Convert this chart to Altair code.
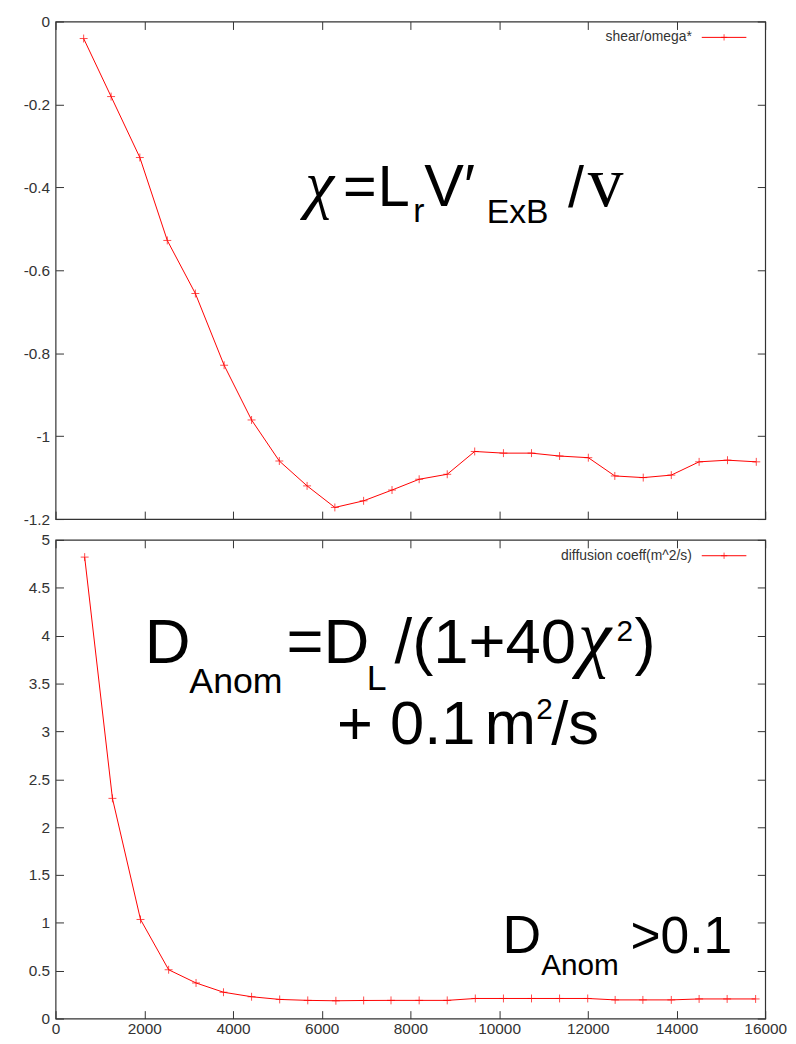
import altair as alt
import pandas as pd

# ---------------- data ----------------
x_top = [633, 1252, 1900, 2519, 3152, 3800, 4419, 5045, 5671, 6297, 6945, 7586, 8198,
         8831, 9450, 10098, 10731, 11364, 12012, 12609, 13250, 13883, 14510, 15150, 15799]
shear_omega = [-0.041, -0.181, -0.328, -0.528, -0.656, -0.829, -0.961, -1.060, -1.120,
               -1.172, -1.156, -1.130, -1.104, -1.092, -1.037, -1.041, -1.041, -1.048,
               -1.052, -1.096, -1.100, -1.094, -1.062, -1.058, -1.062]

x_bot = [656, 1282, 1915, 2549, 3167, 3786, 4419, 5053, 5686, 6320, 6946, 7563, 8198,
         8831, 9464, 10098, 10731, 11364, 11998, 12617, 13242, 13883, 14510, 15142, 15784]
diffusion = [4.82, 2.30, 1.035, 0.51, 0.372, 0.275, 0.228, 0.20, 0.19, 0.186, 0.189, 0.19,
             0.19, 0.19, 0.21, 0.21, 0.21, 0.21, 0.21, 0.195, 0.195, 0.195, 0.205, 0.205, 0.205]

x_ticks = [0, 2000, 4000, 6000, 8000, 10000, 12000, 14000, 16000]
top_y_ticks = [0, -0.2, -0.4, -0.6, -0.8, -1, -1.2]
bot_y_ticks = [0, 0.5, 1, 1.5, 2, 2.5, 3, 3.5, 4, 4.5, 5]

legend_top = "shear/omega*"
legend_bot = "diffusion coeff(m^2/s)"

FONT = "Liberation Sans"
SERIF = "Liberation Serif"
RED = "#ff0000"
AX = "#333333"
CROSS = "M-1,0L1,0M0,-1L0,1"

W = 716
H_TOP = 502
H_BOT = 483

one_row = pd.DataFrame({"k": [0]})


def make_panel(df, ycol, ydom, yticks, height, xlabels, legend, texts):
    xs = alt.Scale(domain=[0, 16000], nice=False, zero=False)
    ys = alt.Scale(domain=ydom, nice=False, zero=False)
    lab = "'' + datum.value"
    ax_bottom = alt.Axis(orient="bottom", values=x_ticks, offset=-8, tickSize=8, domain=False,
                         grid=False, labels=xlabels, labelExpr=lab, labelPadding=3,
                         labelFont=FONT, labelFontSize=15.5, labelColor=AX, tickColor=AX,
                         title=None, labelFlush=False)
    ax_top = alt.Axis(orient="top", values=x_ticks, offset=-8, tickSize=8, domain=False,
                      grid=False, labels=False, tickColor=AX, title=None)
    ax_left = alt.Axis(orient="left", values=yticks, offset=-8, tickSize=8, domain=False,
                       grid=False, labelExpr=lab, labelPadding=6, labelFont=FONT,
                       labelFontSize=15.5, labelColor=AX, tickColor=AX, title=None,
                       labelFlush=False)
    ax_right = alt.Axis(orient="right", values=yticks, offset=-8, tickSize=8, domain=False,
                        grid=False, labels=False, tickColor=AX, title=None)

    base = alt.Chart(df)
    line = base.mark_line(color=RED, strokeWidth=1).encode(
        x=alt.X("x:Q", scale=xs, axis=ax_bottom),
        y=alt.Y(f"{ycol}:Q", scale=ys, axis=ax_left),
    )
    pts = base.mark_point(shape=CROSS, color=RED, size=64, strokeWidth=1, filled=False).encode(
        x=alt.X("x:Q", scale=xs, axis=ax_top),
        y=alt.Y(f"{ycol}:Q", scale=ys, axis=ax_right),
    )

    # key in the upper right corner, gnuplot style
    key_text = alt.Chart(one_row).mark_text(text=legend, align="right", baseline="middle",
                                            font=FONT, fontSize=14, color=AX).encode(
        x=alt.value(642), y=alt.value(16))
    key_line = alt.Chart(one_row).mark_rule(color=RED, strokeWidth=1).encode(
        x=alt.value(652), x2=alt.value(697), y=alt.value(16))
    key_pt = alt.Chart(one_row).mark_point(shape=CROSS, color=RED, size=40, strokeWidth=1).encode(
        x=alt.value(674.5), y=alt.value(16))

    layers = [line, pts, key_text, key_line, key_pt]
    for (t, px, py, size, font, style) in texts:
        layers.append(
            alt.Chart(one_row).mark_text(text=t, align="left", baseline="alphabetic", font=font,
                                         fontSize=size, fontStyle=style, color="black").encode(
                x=alt.value(px), y=alt.value(py))
        )
    return alt.layer(*layers).resolve_axis(x="independent", y="independent").properties(
        width=W, height=height)


df_top = pd.DataFrame({"x": x_top, "v": shear_omega})
df_bot = pd.DataFrame({"x": x_bot, "v": diffusion})

top_texts = [
    ("χ", 252, 186, 66, SERIF, "italic"),
    ("=", 290, 186, 58, FONT, "normal"),
    ("L", 325, 186, 58, FONT, "normal"),
    ("r", 361, 202, 34, FONT, "normal"),
    ("V′", 372, 186, 60, FONT, "normal"),
    ("ExB", 435, 203, 34, FONT, "normal"),
    ("/", 517, 187, 58, FONT, "normal"),
    ("v", 537, 186, 72, SERIF, "normal"),
]

bot_texts = [
    ("D", 90, 124, 64, FONT, "normal"),
    ("Anom", 135, 154, 36, FONT, "normal"),
    ("=D", 233, 124, 64, FONT, "normal"),
    ("L", 314, 151, 36, FONT, "normal"),
    ("/(1+40", 342, 124, 64, FONT, "normal"),
    ("χ", 527, 124, 76, SERIF, "italic"),
    ("2", 566, 102, 30, FONT, "normal"),
    (")", 584, 124, 64, FONT, "normal"),
    ("+ 0.1", 284, 206, 62, FONT, "normal"),
    ("m", 433, 206, 62, FONT, "normal"),
    ("2", 485, 181, 30, FONT, "normal"),
    ("/s", 500, 206, 62, FONT, "normal"),
    ("D", 451, 417, 54, FONT, "normal"),
    ("Anom", 490, 439, 30, FONT, "normal"),
    (">0.1", 580, 417, 52, FONT, "normal"),
]

top = make_panel(df_top, "v", [-1.2, 0], top_y_ticks, H_TOP, False, legend_top, top_texts)
bot = make_panel(df_bot, "v", [0, 5], bot_y_ticks, H_BOT, True, legend_bot, bot_texts)

chart = alt.vconcat(top, bot, spacing=3).properties(
    padding={"left": 14, "top": 1, "right": 0, "bottom": 0}
).configure_view(stroke=AX, strokeWidth=1.2)

chart.save("out.html", embed_options={"renderer": "svg", "actions": False})
